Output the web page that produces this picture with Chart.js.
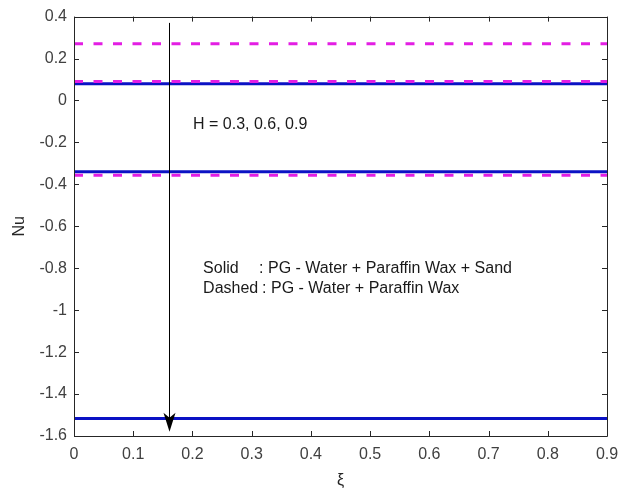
<!DOCTYPE html>
<html>
<head>
<meta charset="utf-8">
<script src="https://cdn.jsdelivr.net/npm/chart.js@4"></script>
<style>
  html, body { margin: 0; padding: 0; background: #ffffff; }
  #wrap { width: 634px; height: 490px; }
</style>
</head>
<body>
<div id="wrap"><canvas id="c" width="634" height="490"></canvas></div>
<script>
// Local Nusselt number against ξ for H = 0.3, 0.6, 0.9
const xi = [0, 0.9];
const hValues = ['0.3', '0.6', '0.9'];
// Solid: PG-Water + Paraffin Wax + Sand
const nuSand = [0.080, -0.340, -1.516];
// Dashed: PG-Water + Paraffin Wax
const nuWax = [0.270, 0.091, -0.357];
const xTicks = [0, 0.1, 0.2, 0.3, 0.4, 0.5, 0.6, 0.7, 0.8, 0.9];
const yTicks = [-1.6, -1.4, -1.2, -1, -0.8, -0.6, -0.4, -0.2, 0, 0.2, 0.4];
// arrow showing increasing H: from (ξ, Nu) start to end
const arrowXi = 0.16;
const arrowNu = [0.37, -1.58];

const FONT = '"Liberation Sans", Arial, sans-serif';
const AXIS = '#262626';

function series(values, color, dash) {
  return values.map((v, i) => ({
    label: 'H = ' + hValues[i],
    data: xi.map(x => ({ x: x, y: v })),
    borderColor: color,
    borderWidth: 3,
    borderDash: dash,
    pointRadius: 0,
    fill: false,
    tension: 0
  }));
}

function fmt(v) {
  const r = Math.round(v * 10) / 10;
  return r === 0 ? '0' : String(r);
}

// Box around the plot, inward tick marks, arrow and annotation text
const decor = {
  id: 'decor',
  afterDatasetsDraw(chart) {
    const { ctx, chartArea: a, scales: { x, y } } = chart;
    ctx.save();
    ctx.strokeStyle = AXIS;
    ctx.lineWidth = 1;
    ctx.beginPath();
    ctx.rect(Math.round(a.left) + 0.5, Math.round(a.top) + 0.5,
             Math.round(a.right - a.left), Math.round(a.bottom - a.top));
    ctx.stroke();
    const tl = 5;
    ctx.beginPath();
    xTicks.forEach(t => {
      const px = Math.round(x.getPixelForValue(t)) + 0.5;
      ctx.moveTo(px, a.bottom); ctx.lineTo(px, a.bottom - tl);
      ctx.moveTo(px, a.top); ctx.lineTo(px, a.top + tl);
    });
    yTicks.forEach(t => {
      const py = Math.round(y.getPixelForValue(t)) + 0.5;
      ctx.moveTo(a.left, py); ctx.lineTo(a.left + tl, py);
      ctx.moveTo(a.right, py); ctx.lineTo(a.right - tl, py);
    });
    ctx.stroke();

    // arrow
    const ax = Math.round(x.getPixelForValue(arrowXi)) + 0.5;
    const y0 = y.getPixelForValue(arrowNu[0]);
    const y1 = y.getPixelForValue(arrowNu[1]);
    ctx.strokeStyle = '#000';
    ctx.fillStyle = '#000';
    ctx.beginPath();
    ctx.moveTo(ax, y0); ctx.lineTo(ax, y1 - 10);
    ctx.stroke();
    ctx.beginPath();
    ctx.moveTo(ax, y1);
    ctx.lineTo(ax - 6, y1 - 19);
    ctx.lineTo(ax, y1 - 14);
    ctx.lineTo(ax + 6, y1 - 19);
    ctx.closePath();
    ctx.fill();

    // annotations
    ctx.font = '16px ' + FONT;
    ctx.fillStyle = '#1a1a1a';
    ctx.textBaseline = 'middle';
    ctx.textAlign = 'left';
    ctx.fillText('H = ' + hValues.join(', '), x.getPixelForValue(0.201), y.getPixelForValue(-0.113));
    const lx = x.getPixelForValue(0.218);
    const r1 = y.getPixelForValue(-0.80);
    const r2 = y.getPixelForValue(-0.897);
    ctx.fillText('Solid', lx, r1);
    ctx.fillText(': PG - Water + Paraffin Wax + Sand', lx + 56, r1);
    ctx.fillText('Dashed', lx, r2);
    ctx.fillText(': PG - Water + Paraffin Wax', lx + 59, r2);
    ctx.restore();
  }
};

const datasets = series(nuWax, '#e31ee3', [9, 10.5]).concat(series(nuSand, '#0b12c4', []));

new Chart(document.getElementById('c'), {
  type: 'line',
  data: { datasets: datasets },
  options: {
    responsive: false,
    animation: false,
    devicePixelRatio: 1,
    layout: { padding: { left: 0, right: 27, top: 15, bottom: 0 } },
    plugins: { legend: { display: false }, tooltip: { enabled: false } },
    scales: {
      x: {
        type: 'linear',
        min: 0, max: 0.9,
        afterFit(s) { s.height = 54; },
        afterBuildTicks(s) { s.ticks = xTicks.map(v => ({ value: v })); },
        grid: { display: false, drawTicks: false },
        border: { display: false },
        ticks: {
          padding: 9,
          color: '#404040',
          font: { family: FONT, size: 16 },
          maxRotation: 0,
          autoSkip: false,
          callback: v => fmt(v)
        },
        title: {
          display: true,
          text: 'ξ',
          color: '#262626',
          font: { family: FONT, size: 16 },
          padding: { top: 0, bottom: 0 }
        }
      },
      y: {
        type: 'linear',
        min: -1.6, max: 0.4,
        afterFit(s) { s.width = 74; },
        afterBuildTicks(s) { s.ticks = yTicks.map(v => ({ value: v })); },
        grid: { display: false, drawTicks: false },
        border: { display: false },
        ticks: {
          padding: 7,
          color: '#404040',
          font: { family: FONT, size: 16 },
          autoSkip: false,
          callback: v => fmt(v)
        },
        title: {
          display: true,
          text: 'Nu',
          color: '#262626',
          font: { family: FONT, size: 16 },
          padding: { top: 10, bottom: 0 }
        }
      }
    }
  },
  plugins: [decor]
});
</script>
</body>
</html>
